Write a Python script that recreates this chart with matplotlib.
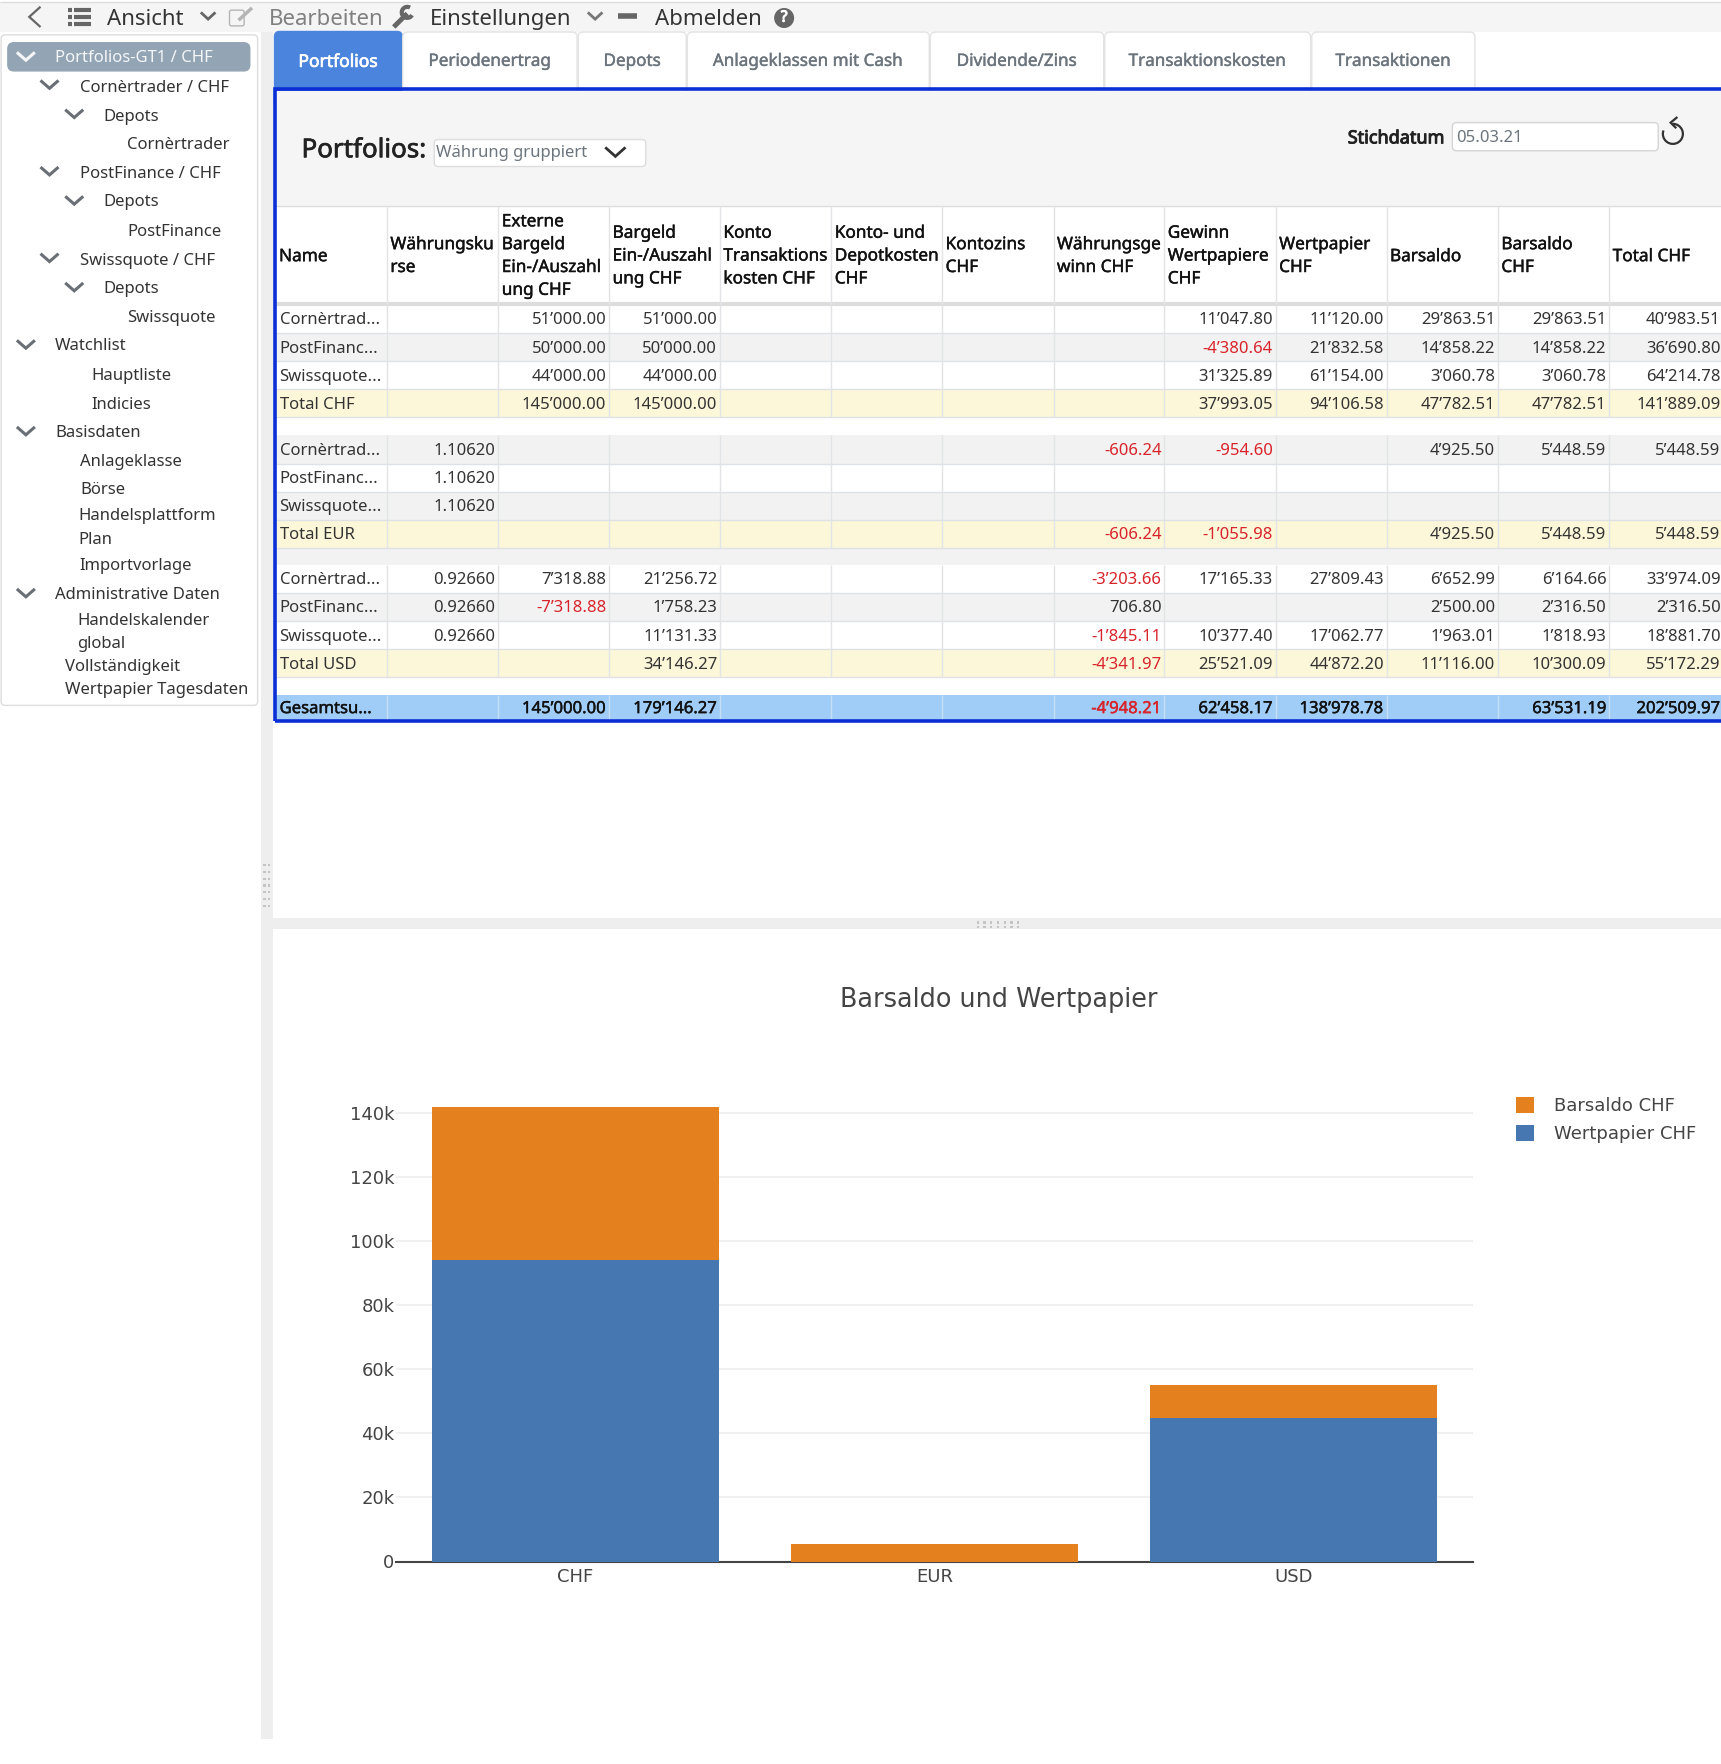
import matplotlib
matplotlib.use("Agg")
from matplotlib import pyplot as plt
from matplotlib import patheffects
from matplotlib.patches import Rectangle, FancyBboxPatch, Circle, Arc

W, H = 1721, 1764
S = 1.125    # the layout numbers below were measured at 1530 px wide
UI_FONT = "Noto Sans"
CHART_FONT = "DejaVu Sans"

# chart data
currencies = ["CHF", "EUR", "USD"]
wertpapier_chf = [94106.58, 0, 44872.20]
barsaldo_chf = [47782.51, 5448.59, 10300.09]
y_ticks = [0, 20000, 40000, 60000, 80000, 100000, 120000, 140000]
y_tick_labels = ["0", "20k", "40k", "60k", "80k", "100k", "120k", "140k"]

# table data
headers = ["Name", "Währungsku\nrse", "Externe\nBargeld\nEin-/Auszahl\nung CHF",
           "Bargeld\nEin-/Auszahl\nung CHF", "Konto\nTransaktions\nkosten CHF",
           "Konto- und\nDepotkosten\nCHF", "Kontozins\nCHF", "Währungsge\nwinn CHF",
           "Gewinn\nWertpapiere\nCHF", "Wertpapier\nCHF", "Barsaldo",
           "Barsaldo\nCHF", "Total CHF"]
rows_chf = [
    ["Cornèrtrad...", "", "51’000.00", "51’000.00", "", "", "", "", "11’047.80", "11’120.00", "29’863.51", "29’863.51", "40’983.51"],
    ["PostFinanc...", "", "50’000.00", "50’000.00", "", "", "", "", "-4’380.64", "21’832.58", "14’858.22", "14’858.22", "36’690.80"],
    ["Swissquote...", "", "44’000.00", "44’000.00", "", "", "", "", "31’325.89", "61’154.00", "3’060.78", "3’060.78", "64’214.78"],
    ["Total CHF", "", "145’000.00", "145’000.00", "", "", "", "", "37’993.05", "94’106.58", "47’782.51", "47’782.51", "141’889.09"],
]
rows_eur = [
    ["Cornèrtrad...", "1.10620", "", "", "", "", "", "-606.24", "-954.60", "", "4’925.50", "5’448.59", "5’448.59"],
    ["PostFinanc...", "1.10620", "", "", "", "", "", "", "", "", "", "", ""],
    ["Swissquote...", "1.10620", "", "", "", "", "", "", "", "", "", "", ""],
    ["Total EUR", "", "", "", "", "", "", "-606.24", "-1’055.98", "", "4’925.50", "5’448.59", "5’448.59"],
]
rows_usd = [
    ["Cornèrtrad...", "0.92660", "7’318.88", "21’256.72", "", "", "", "-3’203.66", "17’165.33", "27’809.43", "6’652.99", "6’164.66", "33’974.09"],
    ["PostFinanc...", "0.92660", "-7’318.88", "1’758.23", "", "", "", "706.80", "", "", "2’500.00", "2’316.50", "2’316.50"],
    ["Swissquote...", "0.92660", "", "11’131.33", "", "", "", "-1’845.11", "10’377.40", "17’062.77", "1’963.01", "1’818.93", "18’881.70"],
    ["Total USD", "", "", "34’146.27", "", "", "", "-4’341.97", "25’521.09", "44’872.20", "11’116.00", "10’300.09", "55’172.29"],
]
row_total = ["Gesamtsu...", "", "145’000.00", "179’146.27", "", "", "", "-4’948.21", "62’458.17", "138’978.78", "", "63’531.19", "202’509.97"]

tab_labels = ["Portfolios", "Periodenertrag", "Depots", "Anlageklassen mit Cash",
              "Dividende/Zins", "Transaktionskosten", "Transaktionen"]
nav_labels = ["Portfolios-GT1 / CHF", "Cornèrtrader / CHF", "Depots", "Cornèrtrader",
              "PostFinance / CHF", "Depots", "PostFinance", "Swissquote / CHF", "Depots",
              "Swissquote", "Watchlist", "Hauptliste", "Indicies", "Basisdaten",
              "Anlageklasse", "Börse", "Handelsplattform", "Plan", "Importvorlage",
              "Administrative Daten", "Handelskalender", "global", "Vollständigkeit",
              "Wertpapier Tagesdaten"]

# layout, in 1530 px units
nav_x = [49, 71, 92, 113, 71, 92, 113, 71, 92, 113, 49, 81, 81, 49, 71, 71, 70, 70, 71, 49, 69, 69, 58, 58]
nav_y = [50, 76, 102, 127, 153, 178, 204, 230, 255, 281, 306, 332, 358, 383, 409, 434, 457, 478, 501, 527, 550, 570, 591, 611]
nav_chevrons = [(23, 50), (44, 75), (66, 101), (44, 152), (66, 178), (44, 229), (66, 255),
                (23, 306), (23, 383), (23, 527)]
tab_edges = [244, 358, 514, 611, 827, 982, 1166, 1312]
col_edges = [245, 344, 443, 541.5, 640, 739, 837.5, 936.5, 1035, 1134, 1232.5, 1331.5, 1430.5, 1532]
row_tops = [271, 296, 321, 346, 387, 412, 437, 462, 502, 527, 552, 577, 618]
row_h = 25
TEXT_DROP = 2    # Noto Sans sits high when centred


def p(v):
    return v * S


def box(ax, x0, y0, x1, y1, color, z=1):
    ax.add_patch(Rectangle((p(x0), p(y0)), p(x1 - x0), p(y1 - y0), facecolor=color,
                           edgecolor="none", zorder=z))


def rbox(ax, x0, y0, x1, y1, face, edge, r=4, z=1):
    ax.add_patch(FancyBboxPatch((p(x0), p(y0)), p(x1 - x0), p(y1 - y0), facecolor=face,
                                edgecolor=edge, linewidth=1,
                                boxstyle="round,pad=0,rounding_size=%d" % r, zorder=z))


def line(ax, xs, ys, color, lw=1.0, z=2):
    ax.plot([p(x) for x in xs], [p(y) for y in ys], color=color, lw=lw, zorder=z,
            solid_capstyle="butt", solid_joinstyle="miter")


def label(ax, x, y, s, size=12, color="#333333", ha="left", stroke=0):
    # the installed Noto Sans only has the regular cut here, so heavier text gets a thin outline
    t = ax.text(p(x), p(y + TEXT_DROP), s, fontsize=size, color=color, ha=ha, va="center",
                family=UI_FONT, zorder=5, clip_on=True)
    if stroke:
        t.set_path_effects([patheffects.withStroke(linewidth=stroke, foreground=color)])


def chevron(ax, x, y, color="#6a6f75", w=8, h=7, lw=2.2):
    line(ax, [x - w, x, x + w], [y - h / 2, y + h / 2, y - h / 2], color, lw, z=4)


fig = plt.figure(figsize=(W / 100, H / 100), dpi=100, facecolor="white")
bg = fig.add_axes([0, 0, 1, 1])
bg.set_xlim(0, W)
bg.set_ylim(H, 0)
bg.axis("off")

# toolbar
box(bg, 0, 2, 1530, 28, "#f5f5f5")
line(bg, [0, 1530], [1.5, 1.5], "#dddddd", 1)
line(bg, [36, 26, 36], [6, 15, 24], "#666666", 1.6)
for yy in [9, 15, 21]:
    line(bg, [60, 64], [yy, yy], "#666666", 3)
    line(bg, [66, 81], [yy, yy], "#666666", 3)
label(bg, 95, 15, "Ansicht", 16, "#333333")
chevron(bg, 185, 14, "#666666", 6.5, 6, 2)
rbox(bg, 204, 9, 217, 23, "none", "#b5b5b5", 2)
line(bg, [212, 224], [18, 7], "#b5b5b5", 2.5)
label(bg, 239, 15, "Bearbeiten", 16, "#808080")
line(bg, [350, 362], [24, 12], "#666666", 3.5)
bg.add_patch(Arc((p(362), p(11)), 11, 11, theta1=30, theta2=300, color="#666666", lw=3, zorder=3))
label(bg, 382, 15, "Einstellungen", 16, "#333333")
chevron(bg, 529, 14, "#777777", 6.5, 6, 2)
line(bg, [549, 566], [14, 14], "#666666", 4)
label(bg, 582, 15, "Abmelden", 16, "#333333")
bg.add_patch(Circle((p(697), p(16)), 10, facecolor="#666666", edgecolor="none", zorder=3))
label(bg, 697, 14, "?", 11, "white", ha="center", stroke=0.8)

# side panel and splitters
box(bg, 232, 28, 243, 1546, "#eeeeee")
box(bg, 243, 816, 1530, 826, "#eeeeee")
rbox(bg, 1, 31, 229, 627, "white", "#dddddd", 4)
rbox(bg, 7, 38, 222, 63, "#93a4b5", "#93a4b5", 6, z=2)
for i in range(7):
    for xx in [235, 239]:
        box(bg, xx - 1, 768 + i * 6, xx + 1, 770 + i * 6, "#c4c4c4", z=2)
    for yy in [820, 824]:
        box(bg, 868 + i * 6, yy - 1, 870 + i * 6, yy + 1, "#c4c4c4", z=2)
for i, s in enumerate(nav_labels):
    label(bg, nav_x[i], nav_y[i], s, 12, "#f4f6f8" if i == 0 else "#333333")
for k, (cx, cy) in enumerate(nav_chevrons):
    chevron(bg, cx, cy, "#f4f6f8" if k == 0 else "#6a6f75")

# tabs
for i, s in enumerate(tab_labels):
    x0, x1 = tab_edges[i], tab_edges[i + 1] - 1
    if i == 0:
        rbox(bg, x0, 28, x1 + 0.5, 95, "#4a84dd", "#4a84dd", 5)
        label(bg, (x0 + x1) / 2, 53, s, 12.6, "white", ha="center", stroke=0.5)
    else:
        rbox(bg, x0, 28.5, x1, 95, "white", "#e3e3e3", 5)
        label(bg, (x0 + x1) / 2, 53, s, 12.3, "#6c757d", ha="center", stroke=0.3)

# table frame and filter row
box(bg, 245, 81, 1530, 183, "#f5f5f5")
label(bg, 268, 132, "Portfolios:", 18.7, "#222222", stroke=0.5)
rbox(bg, 386, 124, 574, 148, "white", "#dddddd", 4)
label(bg, 388, 134, "Währung gruppiert", 12, "#6c757d")
chevron(bg, 547, 135, "#333333", 9, 8, 2)
label(bg, 1198, 121, "Stichdatum", 13, "#222222", stroke=0.7)
rbox(bg, 1291, 109, 1474, 134, "white", "#d5d5d5", 4)
label(bg, 1294, 121, "05.03.21", 12, "#6c757d")
bg.add_patch(Arc((p(1487), p(119)), 20, 20, theta1=-90, theta2=200, color="#333333", lw=1.6, zorder=4))
line(bg, [1491, 1485, 1490], [104, 109, 114], "#333333", 1.6, z=4)

# table body
header_bottom = 270
line(bg, [245, 1530], [183, 183], "#dddddd", 1)
line(bg, [245, 1530], [header_bottom, header_bottom], "#dddddd", 3)
for i, head in enumerate(headers):
    lines = head.split("\n")
    mid = (183 + header_bottom) / 2 - TEXT_DROP + (-0.5 if len(lines) != 1 else 0)
    for n, s in enumerate(lines):
        label(bg, col_edges[i] + 3, mid + (n - (len(lines) - 1) / 2) * 20.3 + 1.2, s, 12.4,
              "#111111", stroke=0.3)

all_rows = rows_chf + rows_eur + rows_usd + [row_total]
row_fill = ["white", "#f2f2f2", "white", "#fcf7d9", "#f2f2f2", "white", "#f2f2f2", "#fcf7d9",
            "white", "#f2f2f2", "white", "#fcf7d9", "#9fcdf8"]
box(bg, 245, 487, 1530, 502, "#f2f2f2")
for xx in col_edges[1:-1]:
    line(bg, [xx, xx], [183, header_bottom], "#e2e4e7", 1, z=3)
for r, values in enumerate(all_rows):
    top = row_tops[r]
    last = r == len(all_rows) - 1
    h = 22 if last else row_h
    box(bg, 245, top, 1530, top + h, row_fill[r])
    line(bg, [245, 1530], [top + h, top + h], "#dee2e6", 1, z=2)
    for xx in col_edges[1:-1]:
        line(bg, [xx, xx], [top, top + h], "#c8def5" if last else "#e2e4e7", 1, z=3)
    for c, s in enumerate(values):
        if not s:
            continue
        stroke = 0.3 if last else 0
        color = "#d8232a" if s.startswith("-") else ("#111111" if last else "#333333")
        if c == 0:
            label(bg, col_edges[0] + 3.5, top + h / 2 - TEXT_DROP + 1.3, s, 12,
                  "#111111" if last else "#333333", stroke=stroke)
        else:
            label(bg, col_edges[c + 1] - 2.5, top + h / 2 - TEXT_DROP + 1.3, s, 12, color, ha="right",
                  stroke=stroke)

# blue frame around the table
line(bg, [244, 244, 1530], [641, 79.5, 79.5], "#0b2fd6", 2.6, z=6)
line(bg, [244, 1530], [641, 641], "#0b2fd6", 2.6, z=6)

# chart
x_left, x_right = p(352), p(1309)
y_zero, y_140k = p(1388), p(989)
y_top = p(975)
px_per_unit = (y_zero - y_140k) / 140000
ax = fig.add_axes([x_left / W, 1 - y_zero / H, (x_right - x_left) / W, (y_zero - y_top) / H],
                  facecolor="none")
ax.set_xlim(-0.5, 2.5)
ax.set_ylim(0, (y_zero - y_top) / px_per_unit)
positions = list(range(len(currencies)))
bars_w = ax.bar(positions, wertpapier_chf, width=0.8, color="#4677b0", zorder=3, label="Wertpapier CHF")
bars_b = ax.bar(positions, barsaldo_chf, width=0.8, bottom=wertpapier_chf, color="#e5801f", zorder=3,
                label="Barsaldo CHF")
ax.set_xticks(positions)
ax.set_xticklabels(currencies, family=CHART_FONT, fontsize=13, color="#444444")
ax.set_yticks(y_ticks)
ax.set_yticklabels(y_tick_labels, family=CHART_FONT, fontsize=13, color="#444444")
ax.tick_params(axis="y", length=0, pad=1)
ax.tick_params(axis="x", length=0, pad=5)
ax.grid(axis="y", color="#eeeeee", lw=1.2, zorder=0)
ax.set_axisbelow(True)
for side in ["top", "left", "right"]:
    ax.spines[side].set_visible(False)
ax.spines["bottom"].set_color("#444444")
ax.spines["bottom"].set_linewidth(1.5)

fig.text(p(888) / W, 1 - p(888.5) / H, "Barsaldo und Wertpapier", family=CHART_FONT, fontsize=18.4,
         color="#444444", ha="center", va="center")
leg = fig.legend(handles=[bars_b, bars_w], loc="upper left", frameon=False,
                 bbox_to_anchor=(p(1342.5) / W, 1 - p(970) / H),
                 prop={"family": CHART_FONT, "size": 13}, labelcolor="#444444",
                 handlelength=1.0, handleheight=1.0, handletextpad=1.1, labelspacing=0.55,
                 borderaxespad=0, borderpad=0.3)

fig.savefig("out.png", dpi=100, facecolor="white")
